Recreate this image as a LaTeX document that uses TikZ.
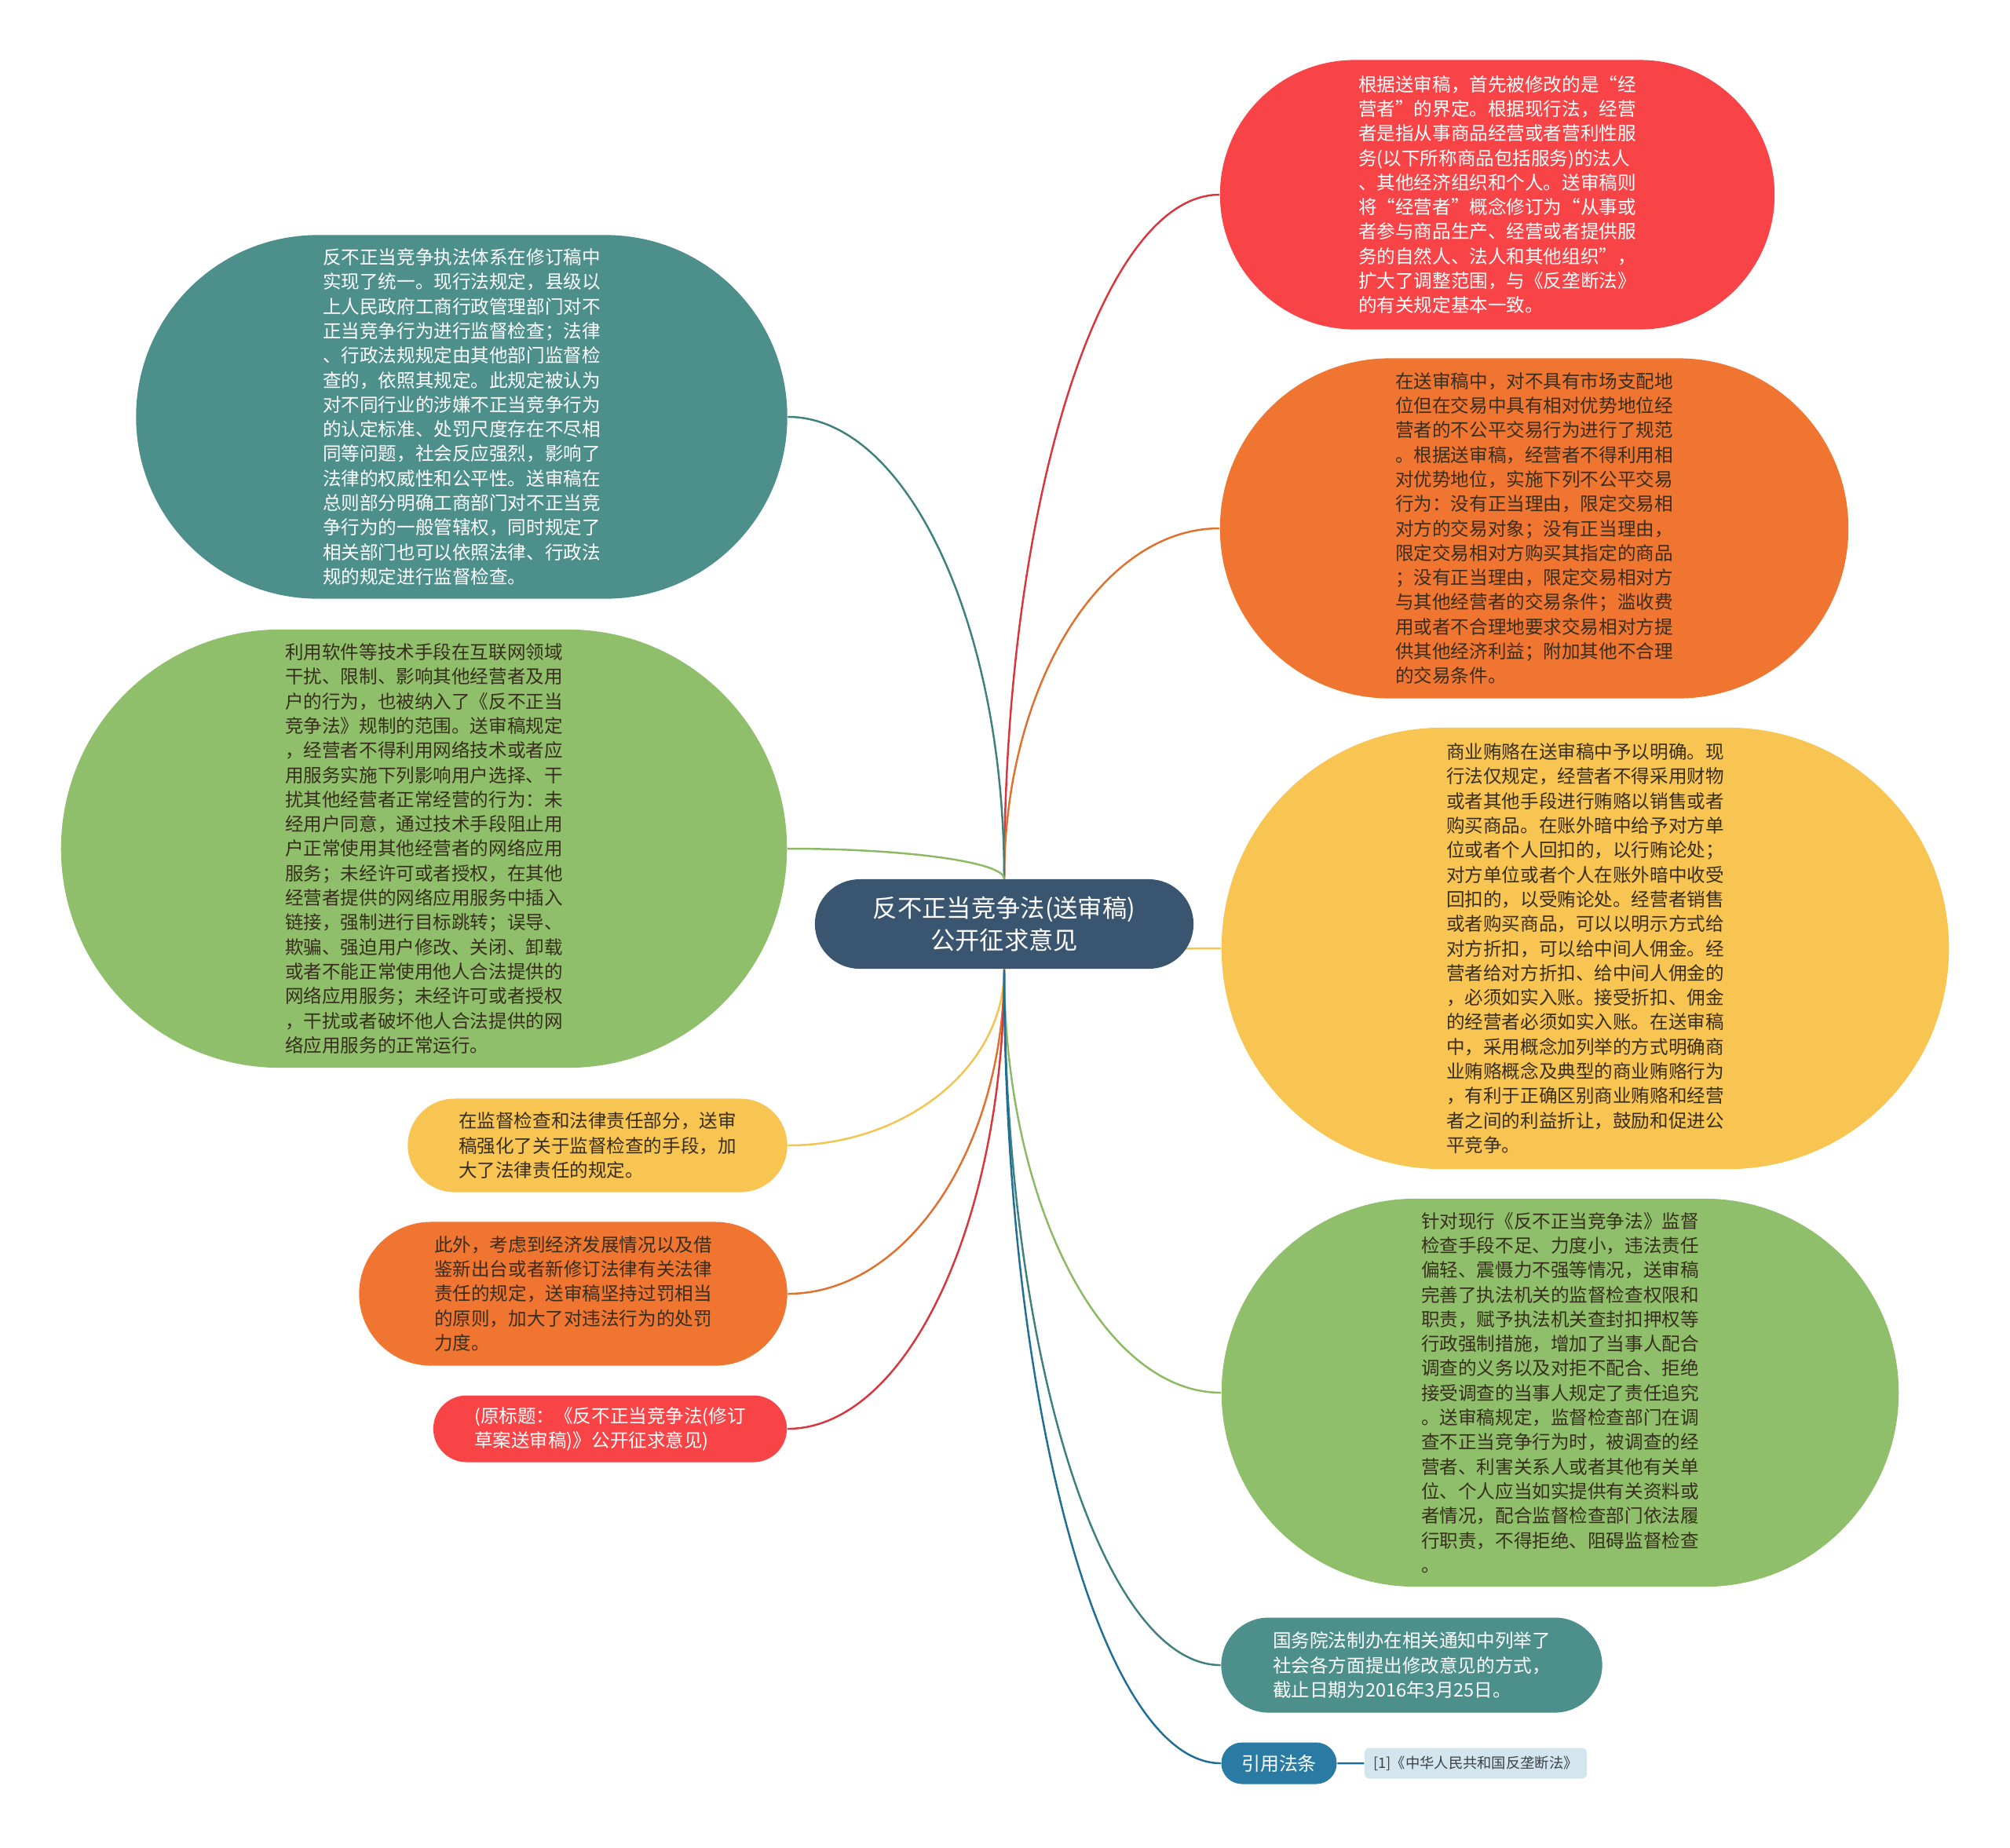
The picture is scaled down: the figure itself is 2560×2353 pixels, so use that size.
\documentclass[tikz,border=0pt]{standalone}
\usepackage{fontspec}
\setmainfont{Noto Sans CJK SC}
\usetikzlibrary{
  positioning,
  calc,
  backgrounds,
  shapes.misc
}
\definecolor{RootBlue}{RGB}{58,85,111}
\definecolor{BubRed}{RGB}{248,67,71}
\definecolor{BubOrange}{RGB}{240,117,48}
\definecolor{BubYellow}{RGB}{248,197,82}
\definecolor{BubGreen}{RGB}{143,191,106}
\definecolor{BubTeal}{RGB}{77,143,138}
\definecolor{LawBlue}{RGB}{42,123,163}
\definecolor{CiteBlue}{RGB}{211,229,237}
\definecolor{InkDark}{RGB}{56,46,30}
\definecolor{CiteInk}{RGB}{60,66,72}
\definecolor{LineRed}{RGB}{216,54,60}
\definecolor{LineOrange}{RGB}{224,112,44}
\definecolor{LineYellow}{RGB}{242,196,80}
\definecolor{LineGreen}{RGB}{140,186,100}
\definecolor{LineTeal}{RGB}{62,128,124}
\definecolor{LineBlue}{RGB}{31,110,150}
\tikzset{
  bubble/.style={rounded rectangle,inner sep=0pt,align=left,font=\fontsize{6.7}{8.9}\selectfont},
  lightbubble/.style={bubble,text=white},
  darkbubble/.style={bubble,text=InkDark},
  rootnode/.style={rounded rectangle,fill=RootBlue,text=white,inner sep=0pt,align=center,minimum width=4.82cm,minimum height=1.14cm,font=\fontsize{8.9}{11.9}\selectfont},
  lawnode/.style={rounded rectangle,fill=LawBlue,text=white,inner sep=0pt,minimum width=1.47cm,minimum height=0.53cm,font=\fontsize{6.8}{8}\selectfont},
  citenode/.style={rectangle,rounded corners=0.6mm,fill=CiteBlue,text=CiteInk,inner sep=0pt,minimum width=2.83cm,minimum height=0.39cm,font=\fontsize{5.2}{6}\selectfont},
  branch/.style={line width=0.7pt,to path={.. controls ($(\tikztostart)!0.55!(\tikztostart |- \tikztotarget)$) and ($(\tikztotarget)!0.55!(\tikztostart |- \tikztotarget)$) .. (\tikztotarget)}}
}

\begin{document}
\begin{tikzpicture}[x=0.01cm,y=-0.01cm,node distance=10mm]
\useasboundingbox (0,0) rectangle (2560,2353);
\node[rootnode] (root) at (1279,1177) {反不正当竞争法(送审稿)\\公开征求意见};

% right side
\node[lightbubble, fill=BubRed, minimum width=7.06cm, minimum height=3.43cm] (rRed) at (1907,248)
  {根据送审稿，首先被修改的是“经\\营者”的界定。根据现行法，经营\\者是指从事商品经营或者营利性服\\务(以下所称商品包括服务)的法人\\、其他经济组织和个人。送审稿则\\将“经营者”概念修订为“从事或\\者参与商品生产、经营或者提供服\\务的自然人、法人和其他组织”，\\扩大了调整范围，与《反垄断法》\\的有关规定基本一致。};
\node[darkbubble, fill=BubOrange, minimum width=8.00cm, minimum height=4.33cm] (rOrange) at (1954,673)
  {在送审稿中，对不具有市场支配地\\位但在交易中具有相对优势地位经\\营者的不公平交易行为进行了规范\\。根据送审稿，经营者不得利用相\\对优势地位，实施下列不公平交易\\行为：没有正当理由，限定交易相\\对方的交易对象；没有正当理由，\\限定交易相对方购买其指定的商品\\；没有正当理由，限定交易相对方\\与其他经营者的交易条件；滥收费\\用或者不合理地要求交易相对方提\\供其他经济利益；附加其他不合理\\的交易条件。};
\node[darkbubble, fill=BubYellow, minimum width=9.26cm, minimum height=5.62cm] (rYellow) at (2019,1208)
  {商业贿赂在送审稿中予以明确。现\\行法仅规定，经营者不得采用财物\\或者其他手段进行贿赂以销售或者\\购买商品。在账外暗中给予对方单\\位或者个人回扣的，以行贿论处；\\对方单位或者个人在账外暗中收受\\回扣的，以受贿论处。经营者销售\\或者购买商品，可以以明示方式给\\对方折扣，可以给中间人佣金。经\\营者给对方折扣、给中间人佣金的\\，必须如实入账。接受折扣、佣金\\的经营者必须如实入账。在送审稿\\中，采用概念加列举的方式明确商\\业贿赂概念及典型的商业贿赂行为\\，有利于正确区别商业贿赂和经营\\者之间的利益折让，鼓励和促进公\\平竞争。};
\node[darkbubble, fill=BubGreen, minimum width=8.62cm, minimum height=4.94cm] (rGreen) at (1987,1774)
  {针对现行《反不正当竞争法》监督\\检查手段不足、力度小，违法责任\\偏轻、震慑力不强等情况，送审稿\\完善了执法机关的监督检查权限和\\职责，赋予执法机关查封扣押权等\\行政强制措施，增加了当事人配合\\调查的义务以及对拒不配合、拒绝\\接受调查的当事人规定了责任追究\\。送审稿规定，监督检查部门在调\\查不正当竞争行为时，被调查的经\\营者、利害关系人或者其他有关单\\位、个人应当如实提供有关资料或\\者情况，配合监督检查部门依法履\\行职责，不得拒绝、阻碍监督检查\\。};
\node[lightbubble, fill=BubTeal, minimum width=4.85cm, minimum height=1.21cm] (rTeal) at (1798,2121)
  {国务院法制办在相关通知中列举了\\社会各方面提出修改意见的方式，\\截止日期为2016年3月25日。};
\node[lawnode] (law) at (1629,2246) {引用法条};
\node[citenode, right=0.34cm of law] (cite) {[1]《中华人民共和国反垄断法》};

% left side
\node[lightbubble, fill=BubTeal, minimum width=8.29cm, minimum height=4.63cm] (lTeal) at (588,531)
  {反不正当竞争执法体系在修订稿中\\实现了统一。现行法规定，县级以\\上人民政府工商行政管理部门对不\\正当竞争行为进行监督检查；法律\\、行政法规规定由其他部门监督检\\查的，依照其规定。此规定被认为\\对不同行业的涉嫌不正当竞争行为\\的认定标准、处罚尺度存在不尽相\\同等问题，社会反应强烈，影响了\\法律的权威性和公平性。送审稿在\\总则部分明确工商部门对不正当竞\\争行为的一般管辖权，同时规定了\\相关部门也可以依照法律、行政法\\规的规定进行监督检查。};
\node[darkbubble, fill=BubGreen, minimum width=9.24cm, minimum height=5.58cm] (lGreen) at (540,1081)
  {利用软件等技术手段在互联网领域\\干扰、限制、影响其他经营者及用\\户的行为，也被纳入了《反不正当\\竞争法》规制的范围。送审稿规定\\，经营者不得利用网络技术或者应\\用服务实施下列影响用户选择、干\\扰其他经营者正常经营的行为：未\\经用户同意，通过技术手段阻止用\\户正常使用其他经营者的网络应用\\服务；未经许可或者授权，在其他\\经营者提供的网络应用服务中插入\\链接，强制进行目标跳转；误导、\\欺骗、强迫用户修改、关闭、卸载\\或者不能正常使用他人合法提供的\\网络应用服务；未经许可或者授权\\，干扰或者破坏他人合法提供的网\\络应用服务的正常运行。};
\node[darkbubble, fill=BubYellow, minimum width=4.83cm, minimum height=1.19cm] (lYellow) at (761,1459)
  {在监督检查和法律责任部分，送审\\稿强化了关于监督检查的手段，加\\大了法律责任的规定。};
\node[darkbubble, fill=BubOrange, minimum width=5.45cm, minimum height=1.83cm] (lOrange) at (730,1648)
  {此外，考虑到经济发展情况以及借\\鉴新出台或者新修订法律有关法律\\责任的规定，送审稿坚持过罚相当\\的原则，加大了对违法行为的处罚\\力度。};
\node[lightbubble, fill=BubRed, minimum width=4.50cm, minimum height=0.85cm] (lRed) at (777,1820)
  {(原标题：《反不正当竞争法(修订\\草案送审稿)》公开征求意见)};

% connectors
\begin{scope}[on background layer]
\draw[branch, LineRed] (root.north) to (rRed.west);
\draw[branch, LineOrange] (root.north) to (rOrange.west);
\draw[branch, LineTeal] (root.north) to (lTeal.east);
\draw[branch, LineGreen] (root.north) to (lGreen.east);
\draw[branch, LineYellow] (root.south) to (rYellow.west);
\draw[branch, LineYellow] (root.south) to (lYellow.east);
\draw[branch, LineOrange] (root.south) to (lOrange.east);
\draw[branch, LineRed] (root.south) to (lRed.east);
\draw[branch, LineGreen] (root.south) to (rGreen.west);
\draw[branch, LineTeal] (root.south) to (rTeal.west);
\draw[branch, LineBlue] (root.south) to (law.west);
\draw[line width=0.7pt, LineBlue] (law) -- (cite);
\end{scope}
\end{tikzpicture}
\end{document}
